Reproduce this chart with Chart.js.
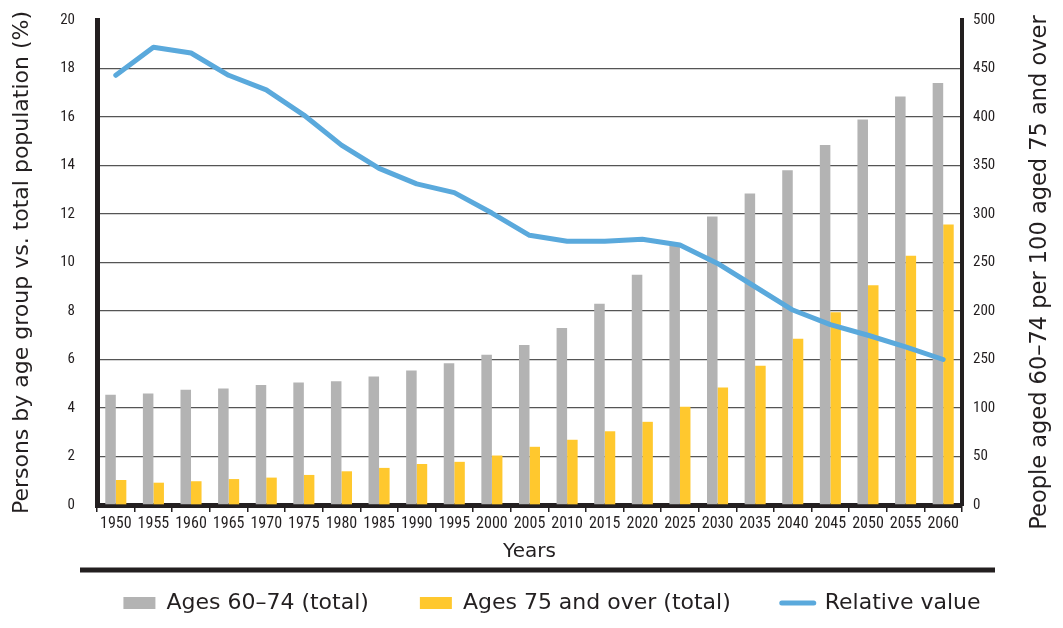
<!DOCTYPE html>
<html>
<head>
<meta charset="utf-8">
<script src="https://cdn.jsdelivr.net/npm/chart.js@4.4.1/dist/chart.umd.min.js"></script>
<style>
  html, body { margin: 0; padding: 0; background: #fff; }
  #wrap { width: 1063px; height: 628px; }
</style>
</head>
<body>
<div id="wrap"><canvas id="chart" width="1063" height="628"></canvas></div>
<script>
var years = ['1950', '1955', '1960', '1965', '1970', '1975', '1980', '1985', '1990', '1995', '2000',
  '2005', '2010', '2015', '2020', '2025', '2030', '2035', '2040', '2045', '2050', '2055', '2060'];

// % of total population
var ages60to74 = [4.55, 4.6, 4.75, 4.8, 4.95, 5.05, 5.1, 5.3, 5.55, 5.85, 6.2,
  6.6, 7.3, 8.3, 9.5, 10.7, 11.9, 12.85, 13.8, 14.85, 15.9, 16.85, 17.4];
var ages75plus = [1.03, 0.92, 0.98, 1.07, 1.13, 1.24, 1.39, 1.53, 1.69, 1.78, 2.04,
  2.4, 2.69, 3.04, 3.43, 4.05, 4.85, 5.74, 6.86, 7.95, 9.06, 10.28, 11.57];

// people 60-74 per 100 aged 75+ (right axis)
var relativeValue = [443, 472, 466, 443, 428, 402, 371, 347, 331, 322, 301,
  278, 272, 272, 274, 268, 249, 225, 201, 186, 175, 163, 150];

// right axis labels as printed (the original shows 250 at the 150 mark)
var rightTickLabels = ['0', '50', '100', '250', '200', '250', '300', '350', '400', '450', '500'];

var leftTitle = 'Persons by age group vs. total population (%)';
var rightTitle = 'People aged 60\u201374 per 100 aged 75 and over';

var ink = '#231f20';
var titleFont = "'DejaVu Sans', sans-serif";
var tickFont = "'Roboto Condensed', 'DejaVu Sans Condensed', 'Liberation Sans', sans-serif";
var legendPad = 51;

var extras = {
  id: 'extras',
  afterLayout: function(chart) {
    // the legend row in the original sits a little right of centre
    var lg = chart.legend;
    var shift = 552 - (lg.left + lg.right) / 2;
    lg.left += shift;
    lg.right += shift;
  },
  afterDraw: function(chart) {
    var ctx = chart.ctx, area = chart.chartArea;
    ctx.save();
    // rule between axis title and legend
    ctx.strokeStyle = ink;
    ctx.lineWidth = 5;
    var y = chart.legend.top + legendPad - 22;
    ctx.beginPath();
    ctx.moveTo(80, y);
    ctx.lineTo(995, y);
    ctx.stroke();
    // right axis title, reads bottom to top
    ctx.translate(1040, (area.top + area.bottom) / 2 + 10);
    ctx.rotate(-Math.PI / 2);
    ctx.font = '22.5px ' + titleFont;
    ctx.fillStyle = ink;
    ctx.textAlign = 'center';
    ctx.textBaseline = 'middle';
    ctx.fillText(rightTitle, 0, 0);
    ctx.restore();
  }
};

// fixed axis widths; no extra vertical padding from the tick labels
function fixWidth(w) {
  return function(scale) {
    scale.width = w;
    scale.paddingTop = 0;
    scale.paddingBottom = 0;
  };
}

new Chart(document.getElementById('chart').getContext('2d'), {
  type: 'bar',
  data: {
    labels: years,
    datasets: [
      {
        label: 'Ages 60\u201374 (total)',
        data: ages60to74,
        backgroundColor: '#b3b3b3',
        yAxisID: 'y',
        order: 2
      },
      {
        label: 'Ages 75 and over (total)',
        data: ages75plus,
        backgroundColor: '#ffc82e',
        yAxisID: 'y',
        order: 2
      },
      {
        type: 'line',
        label: 'Relative value',
        data: relativeValue,
        borderColor: '#5aa9dc',
        backgroundColor: '#5aa9dc',
        borderWidth: 5,
        pointRadius: 0,
        tension: 0,
        borderCapStyle: 'round',
        borderJoinStyle: 'round',
        yAxisID: 'y1',
        order: 1
      }
    ]
  },
  options: {
    responsive: false,
    animation: false,
    devicePixelRatio: 1,
    datasets: {
      bar: { barPercentage: 1, categoryPercentage: 0.56 }
    },
    layout: { padding: { top: 20, right: 66, left: 0, bottom: 4 } },
    plugins: {
      tooltip: { enabled: false },
      legend: {
        position: 'bottom',
        labels: {
          usePointStyle: true,
          pointStyleWidth: 32,
          boxHeight: 12,
          padding: legendPad,
          color: ink,
          font: { family: titleFont, size: 22 },
          generateLabels: function(chart) {
            return chart.data.datasets.map(function(ds, i) {
              var isLine = ds.type === 'line';
              return {
                text: ds.label,
                datasetIndex: i,
                fillStyle: isLine ? 'rgba(0,0,0,0)' : ds.backgroundColor,
                strokeStyle: isLine ? ds.borderColor : ds.backgroundColor,
                lineWidth: isLine ? 5 : 0,
                lineCap: 'round',
                pointStyle: isLine ? 'line' : 'rect',
                fontColor: ink,
                hidden: false
              };
            });
          }
        }
      }
    },
    scales: {
      x: {
        offset: true,
        z: 1,
        afterFit: function(scale) { scale.height = 36; },
        grid: {
          offset: true,
          drawOnChartArea: false,
          tickLength: 7,
          color: ink,
          lineWidth: 1.5
        },
        border: { display: true, width: 5, color: ink },
        ticks: {
          color: ink,
          font: { family: tickFont, size: 16 },
          maxRotation: 0,
          autoSkip: false,
          padding: 2
        },
        title: {
          display: true,
          text: 'Years',
          color: ink,
          font: { family: titleFont, size: 20 },
          padding: { top: 0, bottom: -23 }
        }
      },
      y: {
        position: 'left',
        min: 0,
        max: 20,
        afterFit: fixWidth(97),
        ticks: {
          stepSize: 2,
          color: ink,
          font: { family: tickFont, size: 15 },
          padding: 22
        },
        grid: {
          drawTicks: false,
          lineWidth: 1.3,
          color: function(c) {
            return (c.tick.value === 0 || c.tick.value === 20) ? 'rgba(0,0,0,0)' : '#555555';
          }
        },
        border: { display: true, width: 5, color: ink },
        title: {
          display: true,
          text: leftTitle,
          color: ink,
          font: { family: titleFont, size: 22 },
          padding: { top: 9, bottom: 0 }
        }
      },
      y1: {
        position: 'right',
        min: 0,
        max: 500,
        afterFit: fixWidth(35),
        ticks: {
          stepSize: 50,
          color: ink,
          font: { family: tickFont, size: 15 },
          padding: 11,
          callback: function(value, index) { return rightTickLabels[index]; }
        },
        grid: { drawOnChartArea: false, drawTicks: false },
        border: { display: true, width: 4, color: ink }
      }
    }
  },
  plugins: [extras]
});
</script>
</body>
</html>
